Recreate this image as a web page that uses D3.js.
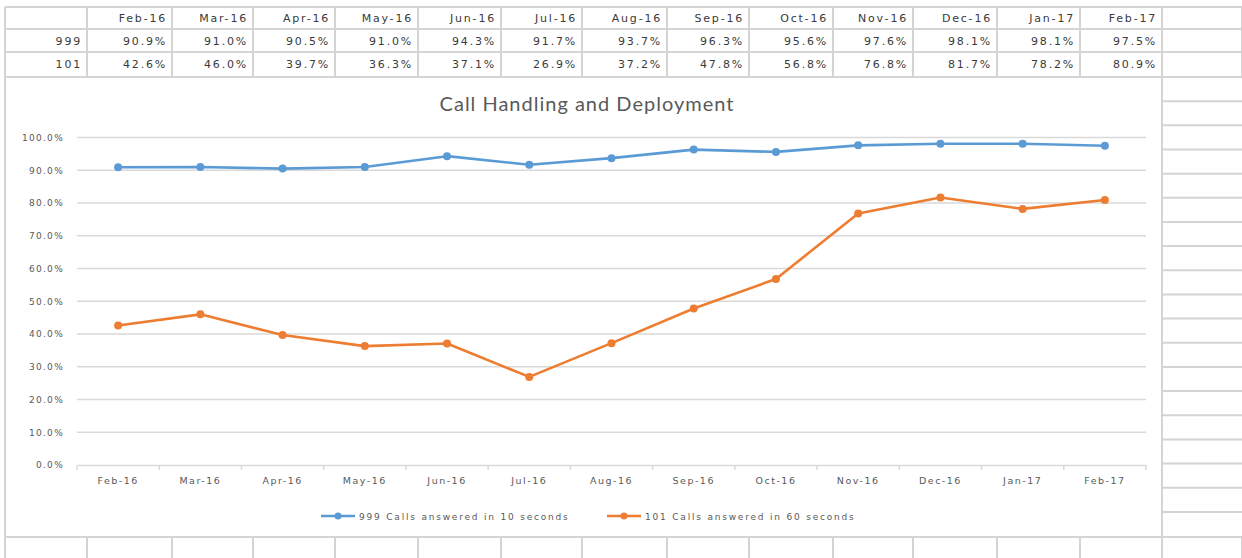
<!DOCTYPE html>
<html>
<head>
<meta charset="utf-8">
<script src="https://cdn.jsdelivr.net/npm/d3@7"></script>
<style>
  body { margin: 0; background: #fff; }
  svg { display: block; }
</style>
</head>
<body>
<div id="chart"></div>
<script>
const months = ['Feb-16', 'Mar-16', 'Apr-16', 'May-16', 'Jun-16', 'Jul-16', 'Aug-16', 'Sep-16', 'Oct-16', 'Nov-16', 'Dec-16', 'Jan-17', 'Feb-17'];
const rowLabels = ['999', '101'];
const calls999 = [90.9, 91.0, 90.5, 91.0, 94.3, 91.7, 93.7, 96.3, 95.6, 97.6, 98.1, 98.1, 97.5];
const calls101 = [42.6, 46.0, 39.7, 36.3, 37.1, 26.9, 37.2, 47.8, 56.8, 76.8, 81.7, 78.2, 80.9];
const seriesNames = ['999 Calls answered in 10 seconds', '101 Calls answered in 60 seconds'];
const yTicks = [0, 10, 20, 30, 40, 50, 60, 70, 80, 90, 100];
const title = 'Call Handling and Deployment';

const W = 1242, H = 558;
const gridColor = '#d4d4d4';
const colors = ['#5b9bd5', '#ed7d31'];

const svg = d3.select('#chart').append('svg')
  .attr('width', W)
  .attr('height', H);

// spreadsheet grid
const colEdges = [5, 87, 172, 253, 335, 418, 501, 582, 667, 749, 833, 913, 997, 1080, 1162, 1242];
const topRows = [7, 29, 52, 77];
const grid = svg.append('g').attr('stroke', gridColor).attr('stroke-width', 2);

topRows.forEach(y => {
  grid.append('line').attr('x1', 5).attr('x2', W).attr('y1', y).attr('y2', y);
});
colEdges.forEach(x => {
  grid.append('line').attr('x1', x).attr('x2', x).attr('y1', 7).attr('y2', 77);
  grid.append('line').attr('x1', x).attr('x2', x).attr('y1', 537).attr('y2', H);
});
// right-hand cells beside the chart
for (let k = 1; k < 19; k++) {
  const y = 77 + k * 24.16;
  grid.append('line').attr('x1', 1162).attr('x2', W).attr('y1', y).attr('y2', y);
}
grid.append('line').attr('x1', 5).attr('x2', W).attr('y1', 537).attr('y2', 537);

// table text
const table = svg.append('g')
  .attr('font-family', 'DejaVu Sans, Verdana, sans-serif')
  .attr('font-size', 11)
  .attr('letter-spacing', 1.8)
  .attr('fill', '#3a3a3a')
  .attr('text-anchor', 'end');

months.forEach((m, i) => {
  table.append('text').attr('x', colEdges[i + 2] - 5).attr('y', 22).text(m);
  table.append('text').attr('x', colEdges[i + 2] - 5).attr('y', 45).text(calls999[i].toFixed(1) + '%');
  table.append('text').attr('x', colEdges[i + 2] - 5).attr('y', 68).text(calls101[i].toFixed(1) + '%');
});
rowLabels.forEach((r, i) => {
  table.append('text').attr('x', colEdges[1] - 5).attr('y', 45 + i * 23).text(r);
});

// chart area
svg.append('rect')
  .attr('x', 5).attr('y', 77)
  .attr('width', 1157).attr('height', 460)
  .attr('fill', '#fff')
  .attr('stroke', gridColor)
  .attr('stroke-width', 2);

svg.append('text')
  .attr('x', 587).attr('y', 111)
  .attr('text-anchor', 'middle')
  .attr('font-family', 'Lato, sans-serif')
  .attr('font-size', 20)
  .attr('letter-spacing', 1)
  .attr('fill', '#595959')
  .text(title);

const x = d3.scaleBand().domain(months).range([77, 1146]).padding(0);
const y = d3.scaleLinear().domain([0, 100]).range([465, 137.5]);
const cx = d => x(d) + x.bandwidth() / 2;

// gridlines
svg.append('g')
  .selectAll('line')
  .data(yTicks.filter(t => t > 0))
  .enter()
  .append('line')
  .attr('x1', 77).attr('x2', 1146)
  .attr('y1', d => y(d)).attr('y2', d => y(d))
  .attr('stroke', '#d9d9d9')
  .attr('stroke-width', 1.5);

// y axis labels
const yAxis = svg.append('g')
  .attr('transform', 'translate(64,0)')
  .call(d3.axisLeft(y).tickValues(yTicks).tickSize(0).tickFormat(d => d.toFixed(1) + '%'));
yAxis.select('.domain').remove();
yAxis.selectAll('text')
  .attr('x', 0)
  .attr('font-family', 'DejaVu Sans, sans-serif')
  .attr('font-size', 9)
  .attr('letter-spacing', 1.3)
  .attr('fill', '#595959');

// x axis
const xAxis = svg.append('g')
  .attr('transform', `translate(0,${y(0)})`)
  .call(d3.axisBottom(x).tickSize(0).tickPadding(12));
xAxis.select('.domain').attr('stroke', '#d9d9d9').attr('stroke-width', 1.5);
xAxis.selectAll('text')
  .attr('font-family', 'DejaVu Sans, sans-serif')
  .attr('font-size', 9.5)
  .attr('letter-spacing', 1.5)
  .attr('fill', '#595959');
const edges = months.map(m => x(m)).concat([x(months[months.length - 1]) + x.bandwidth()]);
svg.append('g')
  .selectAll('line')
  .data(edges)
  .enter()
  .append('line')
  .attr('x1', d => d).attr('x2', d => d)
  .attr('y1', y(0)).attr('y2', y(0) + 5)
  .attr('stroke', '#d9d9d9')
  .attr('stroke-width', 1.5);

// series
const line = d3.line()
  .x((d, i) => cx(months[i]))
  .y(d => y(d));

[calls999, calls101].forEach((s, k) => {
  svg.append('path')
    .datum(s)
    .attr('d', line)
    .attr('fill', 'none')
    .attr('stroke', colors[k])
    .attr('stroke-width', 2.6)
    .attr('stroke-linejoin', 'round');
  svg.append('g')
    .selectAll('circle')
    .data(s)
    .enter()
    .append('circle')
    .attr('cx', (d, i) => cx(months[i]))
    .attr('cy', d => y(d))
    .attr('r', 4)
    .attr('fill', colors[k]);
});

// legend
const legendX = [321, 607];
seriesNames.forEach((name, k) => {
  const g = svg.append('g').attr('transform', `translate(${legendX[k]},516)`);
  g.append('line').attr('x1', 0).attr('x2', 34).attr('stroke', colors[k]).attr('stroke-width', 2.6);
  g.append('circle').attr('cx', 17).attr('r', 3.5).attr('fill', colors[k]);
  g.append('text')
    .attr('x', 38).attr('y', 3.5)
    .attr('font-family', 'DejaVu Sans, sans-serif')
    .attr('font-size', 9)
    .attr('letter-spacing', 1.8)
    .attr('fill', '#595959')
    .text(name);
});
</script>
</body>
</html>
